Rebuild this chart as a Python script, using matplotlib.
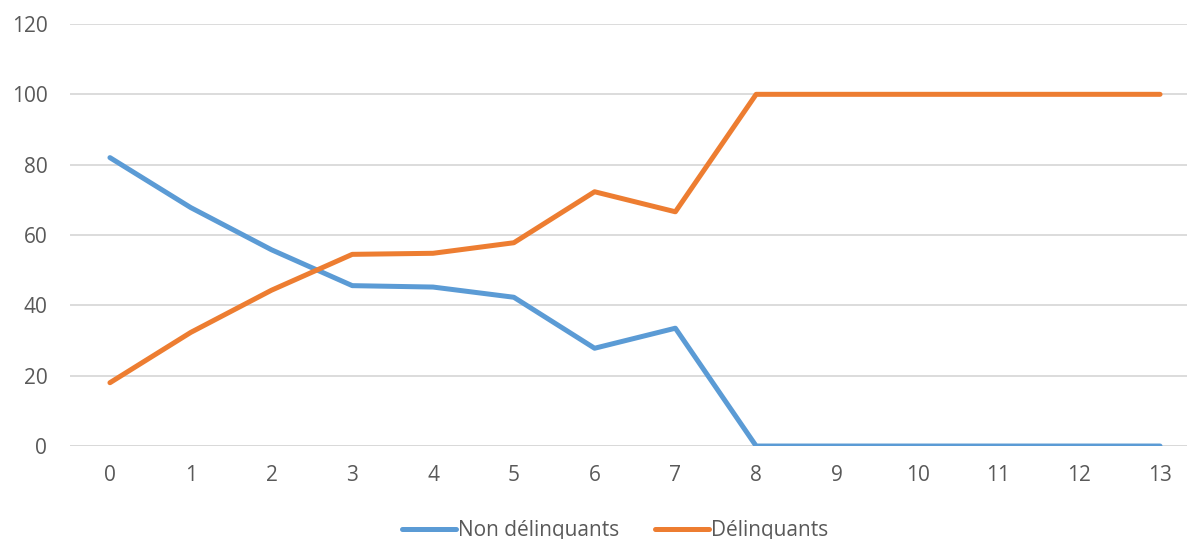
import matplotlib.pyplot as plt

# Données
x_vals = list(range(14))
non_delinquants = [82, 67.8, 55.8, 45.6, 45.2, 42.3, 27.8, 33.5, 0, 0, 0, 0, 0, 0]
delinquants = [18, 32.3, 44.3, 54.5, 54.8, 57.8, 72.3, 66.6, 100, 100, 100, 100, 100, 100]
y_ticks = [0, 20, 40, 60, 80, 100, 120]

plt.rcParams['font.family'] = ['Open Sans', 'DejaVu Sans']
gris = '#595959'

fig = plt.figure(figsize=(11.87, 5.39), dpi=100)
ax = fig.add_axes([0.0586, 0.1725, 0.9527, 0.783])

ax.plot(x_vals, non_delinquants, color='#5B9BD5', lw=3.6,
        solid_capstyle='round', solid_joinstyle='round', label='Non délinquants', zorder=3)
ax.plot(x_vals, delinquants, color='#ED7D31', lw=3.6,
        solid_capstyle='round', solid_joinstyle='round', label='Délinquants', zorder=3)

ax.set_xlim(-0.5, 13.5)
ax.set_ylim(0, 120)
ax.set_xticks(x_vals)
ax.set_yticks(y_ticks)
ax.yaxis.grid(True, color='#D9D9D9', lw=1.3)
ax.set_axisbelow(True)
for s in ax.spines.values():
    s.set_visible(False)
ax.tick_params(axis='both', length=0, labelsize=15, colors=gris)
ax.tick_params(axis='x', pad=14)
ax.tick_params(axis='y', pad=16)
ax.axhline(0, color='#D9D9D9', lw=1.3, zorder=1)

fig.legend(loc='center', bbox_to_anchor=(0.518, 0.016), ncol=2, frameon=False,
           fontsize=15, labelcolor=gris, handlelength=2.6, handletextpad=0.1,
           columnspacing=1.7)

fig.savefig('out.png', dpi=100)
